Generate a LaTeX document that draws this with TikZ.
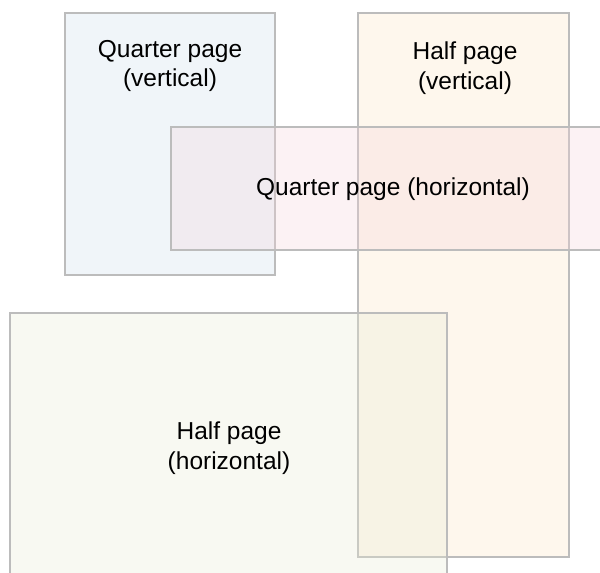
\documentclass[tikz,border=0pt]{standalone}
\usepackage{fontspec}
\setmainfont{Liberation Sans}
\definecolor{qvfill}{RGB}{205,222,235}
\definecolor{hvfill}{RGB}{252,228,195}
\definecolor{qhfill}{RGB}{245,212,218}
\definecolor{hhfill}{RGB}{232,235,212}
\definecolor{edge}{RGB}{188,188,188}
\tikzset{
  x=1pt, y=-1pt,
  area/.style={draw=edge, line width=1.1pt, fill opacity=0.3, inner sep=0pt, outer sep=0pt, anchor=north west},
  caption/.style={font=\fontsize{24.5}{29.5}\selectfont, align=center, text=black, inner sep=0pt}
}
\begin{document}
\begin{tikzpicture}
\useasboundingbox (0,0) rectangle (600,573);
\clip (0,0) rectangle (600,573);
% the four page areas
\node[area, fill=qvfill, minimum width=210pt, minimum height=262pt] (qv) at (65,13) {};
\node[area, fill=hvfill, minimum width=211pt, minimum height=544pt] (hv) at (358,13) {};
\node[area, fill=qhfill, minimum width=445pt, minimum height=123pt] (qh) at (171,127) {};
\node[area, fill=hhfill, minimum width=437pt, minimum height=270pt] (hh) at (10,313) {};
% captions
\node[caption] (qvtext) at (170,66) {Quarter page\\(vertical)};
\node[caption] (hvtext) at (465,68) {Half page\\(vertical)};
\node[caption] (qhtext) at (393,189) {Quarter page (horizontal)};
\node[caption] (hhtext) at (229,448) {Half page\\(horizontal)};
\end{tikzpicture}
\end{document}
